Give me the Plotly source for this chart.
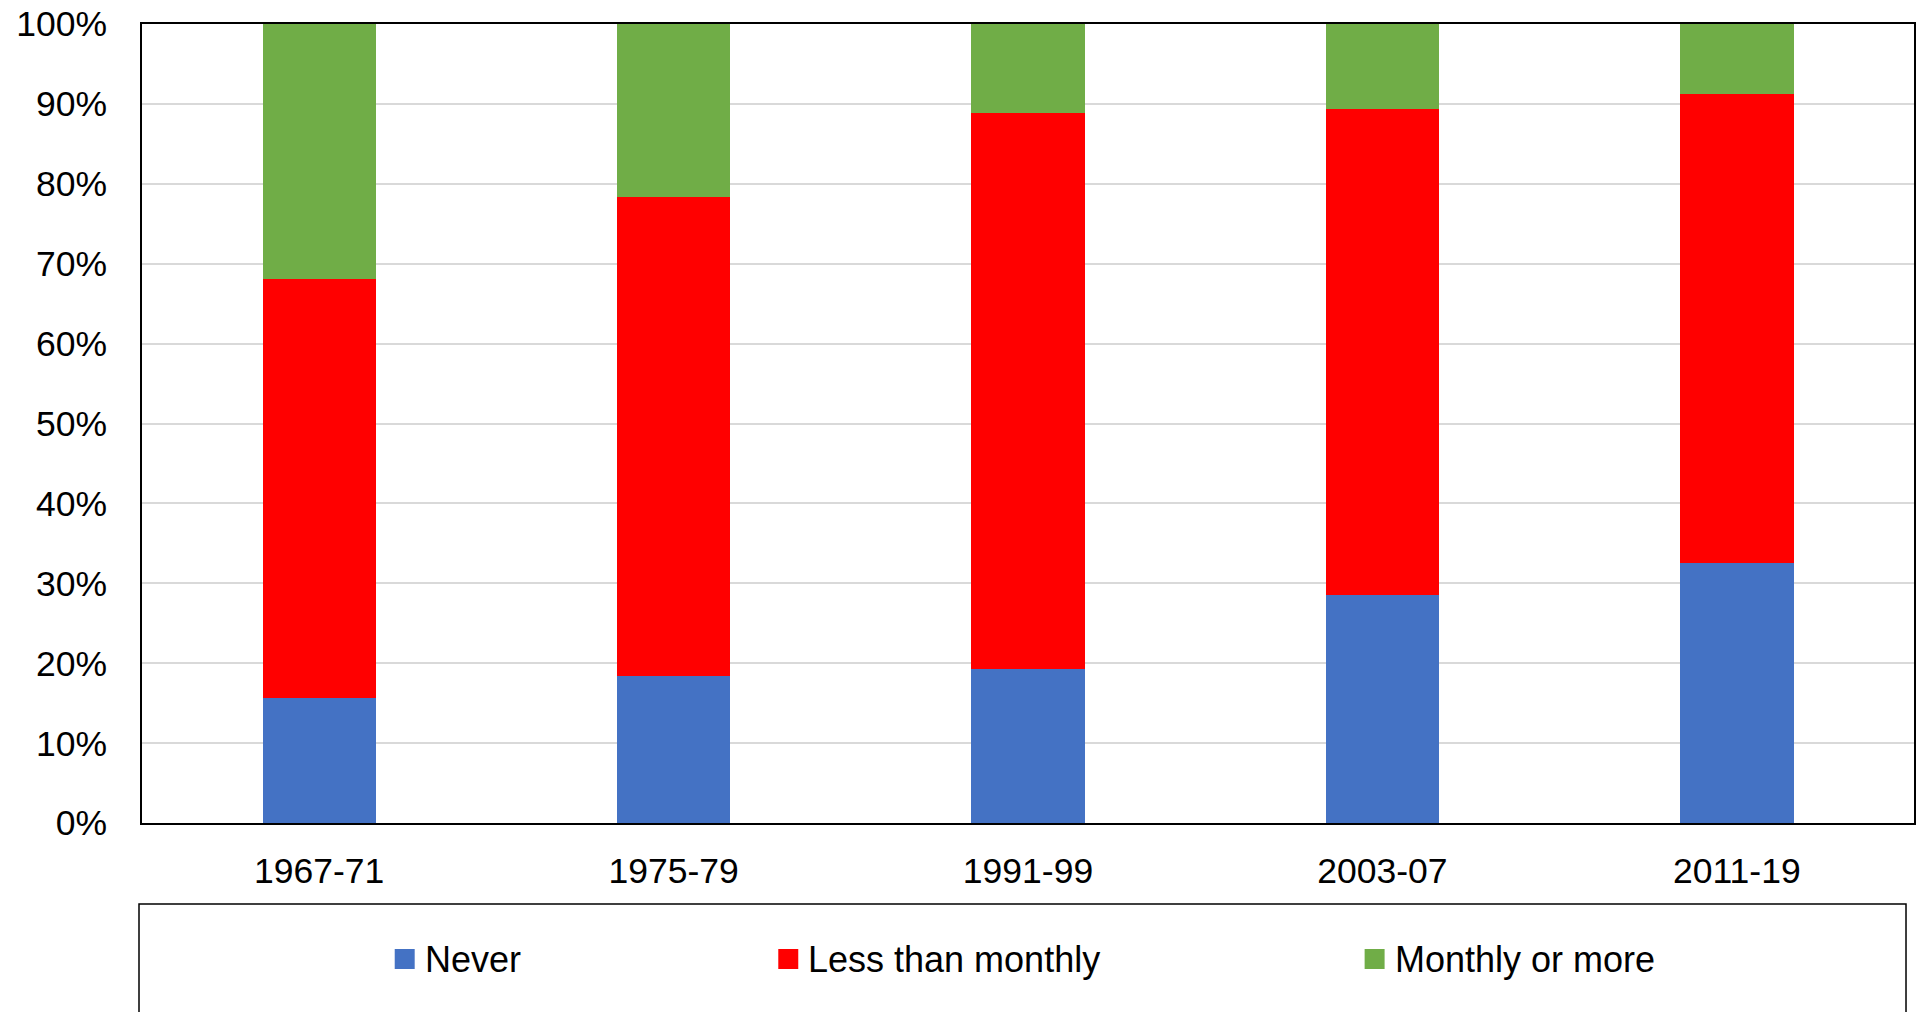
import plotly.graph_objects as go

categories = ["1967-71", "1975-79", "1991-99", "2003-07", "2011-19"]
never = [15.7, 18.4, 19.3, 28.5, 32.5]
less_than_monthly = [52.4, 60.0, 69.6, 60.9, 58.8]
monthly_or_more = [31.9, 21.6, 11.1, 10.6, 8.7]
series_names = ["Never", "Less than monthly", "Monthly or more"]
series_colors = ["#4472C4", "#FF0000", "#70AD47"]
y_ticks = list(range(0, 101, 10))

W, H = 1917, 1012
L, R, T, B = 142, 1916, 24, 823  # plot area in px
FONT = "Liberation Sans, Arial, sans-serif"

fig = go.Figure()
for name, vals, col in zip(series_names, [never, less_than_monthly, monthly_or_more], series_colors):
    fig.add_trace(go.Bar(x=categories, y=vals, name=name, marker=dict(color=col, line=dict(width=0)),
                         showlegend=False))

fig.update_layout(
    width=W, height=H,
    barmode="stack", bargap=0.68,
    margin=dict(l=L, r=W - R, t=T, b=H - B, pad=0),
    paper_bgcolor="white", plot_bgcolor="white",
    font=dict(family=FONT, size=35.5, color="black"),
)
fig.update_yaxes(range=[0, 100], tickvals=y_ticks, ticktext=[f"{v}%" for v in y_ticks],
                 showgrid=True, gridcolor="#d9d9d9", gridwidth=1.5,
                 showline=True, linecolor="black", linewidth=1.5, mirror=True,
                 ticks="", ticklabelstandoff=26, zeroline=False)
fig.update_xaxes(type="category", showline=True, linecolor="black", linewidth=1.5, mirror=True,
                 ticks="", ticklabelstandoff=16, showgrid=False)

def px_x(p):
    return (p - L) / (R - L)

def px_y(p):
    return (B - p) / (B - T)

# legend frame
fig.add_shape(type="rect", xref="paper", yref="paper",
              x0=px_x(139), x1=px_x(1908), y0=px_y(1030), y1=px_y(904),
              line=dict(color="black", width=1.5), fillcolor="rgba(0,0,0,0)", layer="above")

legend_sq_x = [395, 779, 1366]
sq = 20
cy = 959
for name, col, lx in zip(series_names, series_colors, legend_sq_x):
    fig.add_shape(type="rect", xref="paper", yref="paper",
                  x0=px_x(lx), x1=px_x(lx + sq), y0=px_y(cy + sq / 2), y1=px_y(cy - sq / 2),
                  line=dict(width=0), fillcolor=col)
    fig.add_annotation(xref="paper", yref="paper", x=px_x(lx + sq + 8), y=px_y(cy),
                       text=name, showarrow=False, xanchor="left", yanchor="middle",
                       font=dict(family=FONT, size=36, color="black"))

fig.write_html("out.html", config={"displayModeBar": False},
               post_script="document.body.style.margin='0';document.body.style.overflow='hidden';")
